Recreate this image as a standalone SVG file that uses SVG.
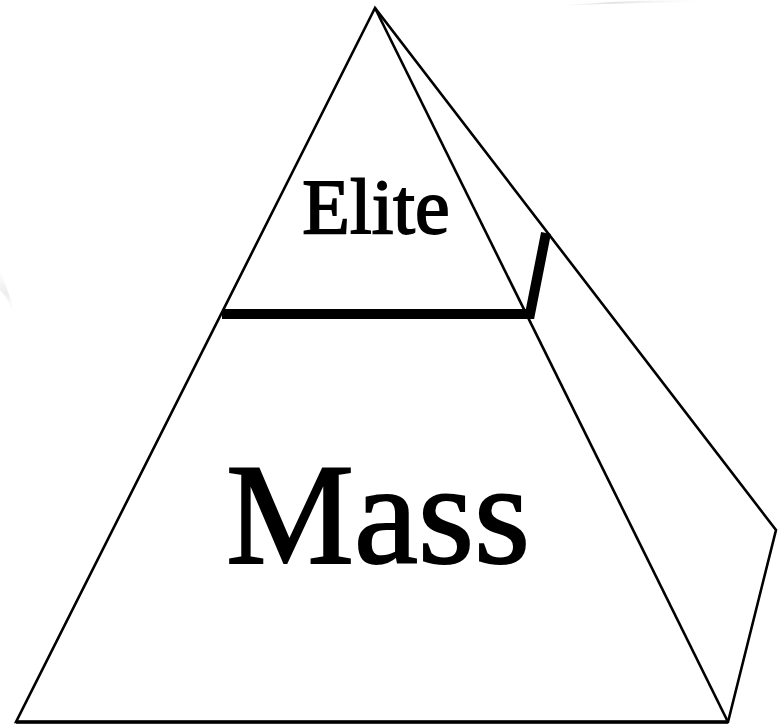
<svg xmlns="http://www.w3.org/2000/svg" width="784" height="727" viewBox="0 0 784 727">
<style>
.thin{fill:none;stroke:#000;stroke-width:2.6;stroke-linejoin:miter}
.thick{fill:none;stroke:#000;stroke-width:10;stroke-linecap:butt;stroke-linejoin:miter}
.lbl{font-family:"Liberation Serif","Times New Roman",serif;fill:#000;stroke:#000;text-anchor:middle}
</style>
<defs>
<linearGradient id="sw1" x1="0" y1="0" x2="1" y2="0">
<stop offset="0" stop-color="#e6e6e6" stop-opacity="0"/>
<stop offset="0.4" stop-color="#e2e2e2" stop-opacity="1"/>
<stop offset="1" stop-color="#f4f4f4" stop-opacity="0"/>
</linearGradient>
<linearGradient id="sw2" x1="0" y1="0" x2="0" y2="1">
<stop offset="0" stop-color="#f0f0f0" stop-opacity="0"/>
<stop offset="0.6" stop-color="#ececec" stop-opacity="1"/>
<stop offset="1" stop-color="#f2f2f2" stop-opacity="0"/>
</linearGradient>
</defs>
<rect width="784" height="727" fill="#fff"/>
<g id="background">
<path d="M555 6 Q620 0 700 0 L700 2 Q620 3 555 6 Z" fill="url(#sw1)"/>
<path d="M0 270 Q8 290 14 310 L12 310 Q6 295 0 290 Z" fill="url(#sw2)"/>
</g>
<g id="pyramid">
<path class="thin" d="M375 8 L16 722 L728 722 L776 530 Z"/>
<path class="thin" d="M375 8 L728 722"/>
<path d="M16 722 L728 722" fill="none" stroke="#000" stroke-width="3.5"/>
</g>
<g id="connectors">
<path class="thick" d="M222 314 L530 314 L546 233"/>
</g>
<g id="elite">
<text class="lbl" x="376" y="233" font-size="78" stroke-width="1.8">Elite</text>
</g>
<g id="mass">
<text class="lbl" x="378" y="563" font-size="144" stroke-width="2">Mass</text>
</g>
</svg>
